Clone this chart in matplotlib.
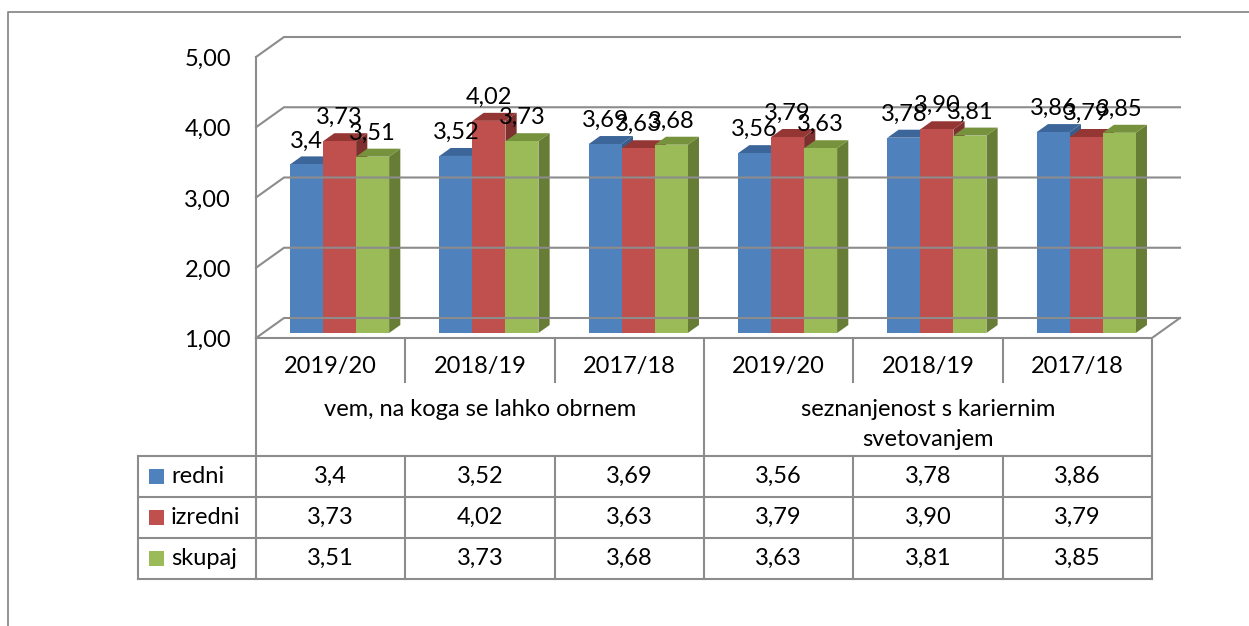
import matplotlib.pyplot as plt
from matplotlib.patches import Polygon, Rectangle

# data, as shown in the chart (decimal comma)
years = ["2019/20", "2018/19", "2017/18", "2019/20", "2018/19", "2017/18"]
groups = ["vem, na koga se lahko obrnem", "seznanjenost s kariernim\nsvetovanjem"]
series = ["redni", "izredni", "skupaj"]
redni = ["3,4", "3,52", "3,69", "3,56", "3,78", "3,86"]
izredni = ["3,73", "4,02", "3,63", "3,79", "3,90", "3,79"]
skupaj = ["3,51", "3,73", "3,68", "3,63", "3,81", "3,85"]
y_ticks = [1, 2, 3, 4, 5]

front_col = ["#4F81BD", "#C0504D", "#9BBB59"]
top_col = ["#3C6699", "#943634", "#76923C"]
side_col = ["#385D8A", "#7E302E", "#677C35"]
grid_col = "#8C8C8C"

plt.rcParams["font.family"] = ["Lato", "DejaVu Sans"]
fs = 17

W, H = 1249, 626
fig = plt.figure(figsize=(W / 100, H / 100), dpi=100)
ax = fig.add_axes([0, 0, 1, 1])
ax.axis("off")

# pixel anchors: x=-0.5 at px 256, one category = 149.33 px; y=1 at px 338, 70.25 px per unit
ppx, ppy = 149.33, 70.25


def X(px):
    return -0.5 + (px - 256) / ppx


def Y(py):
    return 1 + (338 - py) / ppy


ax.set_xlim(X(0), X(W))
ax.set_ylim(Y(H), Y(0))

n = len(years)
ddx, ddy = 28 / ppx, 20 / ppy  # wall depth
lw = 1.5

# outer frame
ax.plot([X(7.5), X(7.5), X(W + 5)], [Y(H + 5), Y(11.5), Y(11.5)], color="#8A8A8A", lw=1.3)

# walls and gridlines
for v in y_ticks:
    ax.plot([-0.5, -0.5 + ddx, n - 0.5 + ddx], [v, v + ddy, v + ddy], color=grid_col, lw=lw,
            solid_joinstyle="miter")
    ax.text(X(231), v - 9 / ppy, f"{v:.2f}".replace(".", ","), ha="right", va="baseline", fontsize=fs)
ax.plot([-0.5, -0.5], [y_ticks[0], y_ticks[-1]], color=grid_col, lw=lw)
ax.plot([-0.5, n - 0.5, n - 0.5 + ddx], [1, 1, 1 + ddy], color=grid_col, lw=lw)

# 3D bars
vals = [[float(s.replace(",", ".")) for s in lst] for lst in (redni, izredni, skupaj)]
labs = [redni, izredni, skupaj]
bw = 33 / ppx
f0, fd = 0.25, 0.4
sdx, sdy = fd * ddx, fd * ddy
base = 1 + f0 * ddy
for i in range(n):
    for j in range(3):
        v = vals[j][i] + f0 * ddy
        xl = i + 0.06 + (j - 1.5) * bw
        ax.add_patch(Polygon([(xl + bw, base), (xl + bw + sdx, base + sdy),
                              (xl + bw + sdx, v + sdy), (xl + bw, v)], closed=True,
                             facecolor=side_col[j], edgecolor="none"))
        ax.add_patch(Polygon([(xl, v), (xl + bw, v), (xl + bw + sdx, v + sdy),
                              (xl + sdx, v + sdy)], closed=True,
                             facecolor=top_col[j], edgecolor="none"))
        ax.add_patch(Rectangle((xl, base), bw, v - base, facecolor=front_col[j], edgecolor="none"))
    for j in range(3):
        v = vals[j][i] + f0 * ddy
        xl = i + 0.06 + (j - 1.5) * bw
        ax.text(xl + bw / 2, v + 17 / ppy, labs[j][i], ha="center", va="baseline", fontsize=fs)

# data table
y_top = Y(340)
y_sep = Y(382)
rows = [Y(456), Y(497), Y(538), Y(579)]
x_left = X(138)
tc = dict(color=grid_col, lw=lw)
for k in range(n + 1):
    xk = k - 0.5
    if k % 3 == 0:
        ax.plot([xk, xk], [y_top, rows[-1]], **tc)
    else:
        ax.plot([xk, xk], [y_top, y_sep], **tc)
        ax.plot([xk, xk], [rows[0], rows[-1]], **tc)
for r in rows:
    ax.plot([x_left, n - 0.5], [r, r], **tc)
ax.plot([x_left, x_left], [rows[0], rows[-1]], **tc)

for i, yr in enumerate(years):
    ax.text(i, Y(367), yr, ha="center", va="center", fontsize=fs)
for g, name in enumerate(groups):
    for li, line in enumerate(name.split("\n")):
        ax.text(g * 3 + 1, Y(409 + 31 * li), line, ha="center", va="center", fontsize=fs)

for j, s in enumerate(series):
    yc = (rows[j] + rows[j + 1]) / 2
    ax.add_patch(Rectangle((X(149), yc - 7.5 / ppy), 15 / ppx, 15 / ppy,
                           facecolor=front_col[j], edgecolor="none"))
    ax.text(X(171), yc, s, ha="left", va="center", fontsize=fs)
    for i in range(n):
        ax.text(i, yc, labs[j][i], ha="center", va="center", fontsize=fs)

fig.savefig("out.png", dpi=100)
